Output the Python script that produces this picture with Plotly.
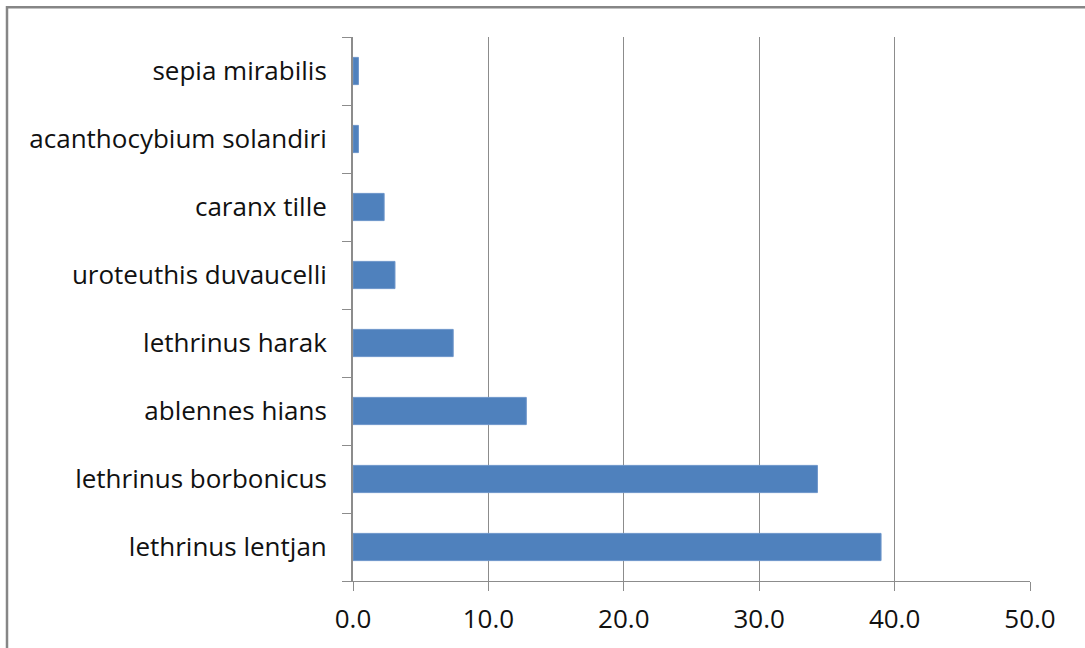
import plotly.graph_objects as go

species = ["lethrinus lentjan", "lethrinus borbonicus", "ablennes hians", "lethrinus harak",
           "uroteuthis duvaucelli", "caranx tille", "acanthocybium solandiri", "sepia mirabilis"]
values = [39.0, 34.3, 12.8, 7.4, 3.1, 2.3, 0.4, 0.4]
x_ticks = [0, 10, 20, 30, 40, 50]
x_tick_labels = ["0.0", "10.0", "20.0", "30.0", "40.0", "50.0"]

W, H = 1085, 648
L, R, T, B = 353, 55, 37, 64
pw, ph = W - L - R, H - T - B

fig = go.Figure(go.Bar(
    x=values, y=species, orientation="h",
    marker=dict(color="#4F81BD", line=dict(color="#6D95CA", width=1)),
    width=0.4,
))

fig.update_layout(
    width=W, height=H,
    margin=dict(l=L, r=R, t=T, b=B, pad=0),
    paper_bgcolor="white", plot_bgcolor="white",
    font=dict(family="Open Sans, sans-serif", size=26, color="#111111"),
    showlegend=False,
    xaxis=dict(
        range=[0, 50], tickvals=x_ticks, ticktext=x_tick_labels,
        showgrid=True, gridcolor="#8c8c8c", gridwidth=1,
        showline=True, linecolor="#8c8c8c", linewidth=1,
        ticks="outside", ticklen=9, tickcolor="#8c8c8c",
        ticklabelstandoff=6,
        zeroline=False, fixedrange=True,
    ),
    yaxis=dict(
        type="category", categoryorder="array", categoryarray=species,
        showgrid=False, showline=True, linecolor="#8c8c8c", linewidth=2,
        ticks="outside", ticklen=9, tickcolor="#8c8c8c", tickson="boundaries",
        ticklabelstandoff=19, fixedrange=True,
    ),
    shapes=[dict(
        type="rect", xref="paper", yref="paper",
        x0=(7 - L) / pw, x1=(W + 20 - L) / pw,
        y0=-(B + 20) / ph, y1=(H - B - 7) / ph,
        line=dict(color="#868686", width=2.5), fillcolor="rgba(0,0,0,0)", layer="below",
    )],
)

fig.write_html("out.html")
